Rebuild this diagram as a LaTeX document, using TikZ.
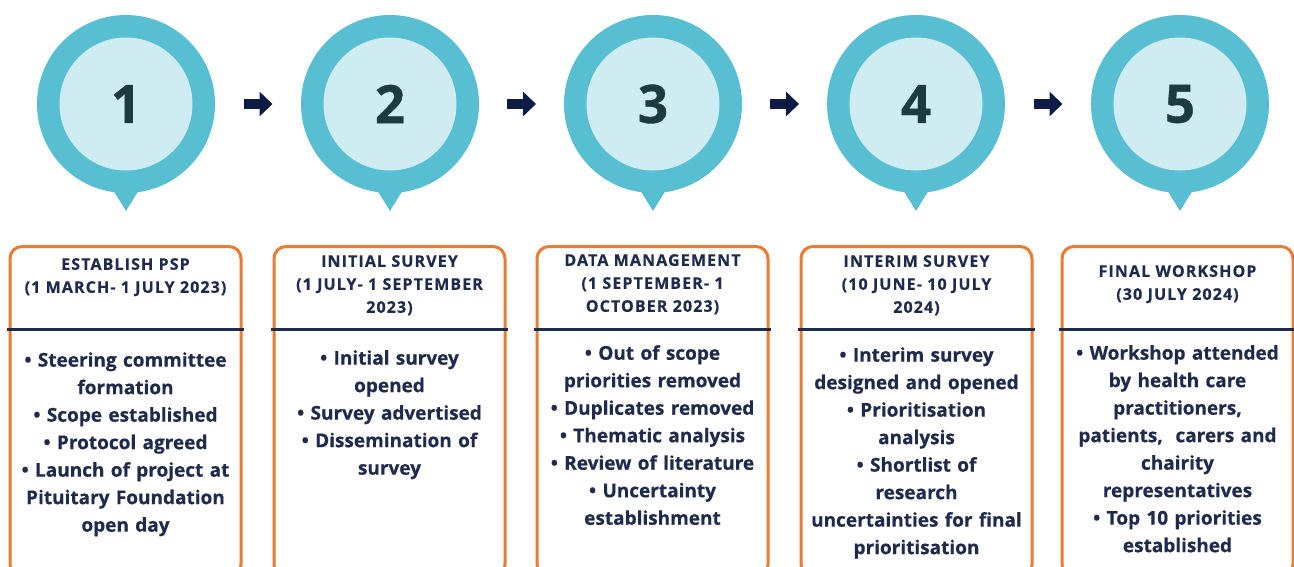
\documentclass[tikz,border=0pt]{standalone}
\usepackage{fontspec}
\setmainfont{Open Sans}
\usetikzlibrary{arrows.meta,calc}
\definecolor{outerc}{HTML}{58BFD3}
\definecolor{innerc}{HTML}{CFECF3}
\definecolor{numc}{HTML}{1D3A40}
\definecolor{arrc}{HTML}{0E1B45}
\definecolor{orangec}{HTML}{EC7A30}
\definecolor{navyc}{HTML}{1F2B4D}
\tikzset{
  x=1pt, y=1pt,
  outercirc/.style={circle, fill=outerc, minimum size=178pt, inner sep=0pt},
  innercirc/.style={circle, fill=innerc, minimum size=133pt, inner sep=0pt,
    text=numc, font=\fontsize{53}{53}\selectfont\bfseries\addfontfeatures{FakeBold=0.6}},
  stepbox/.style={draw=orangec, line width=3pt, rounded corners=12pt,
    minimum width=231pt, minimum height=330pt, anchor=north, inner sep=0pt},
  titletxt/.style={anchor=north, inner sep=0pt, text width=228pt, align=center,
    text=navyc, font=\fontsize{16}{23}\selectfont\bfseries\addfontfeatures{LetterSpace=7,FakeBold=0.4}},
  bodytxt/.style={anchor=north, inner sep=0pt, text width=228pt, align=center,
    text=navyc, font=\fontsize{19}{27.5}\selectfont\bfseries\addfontfeatures{FakeBold=0.5}},
  blockarrow/.style={draw=arrc, line width=10pt,
    -{Triangle[length=13pt 0, width=24pt 0]}},
  divider/.style={draw=navyc, line width=3pt}
}
\begin{document}
\begin{tikzpicture}
\useasboundingbox (0,0) rectangle (1294,-566);
\clip (0,0) rectangle (1294,-566);
\fill[white] (0,0) rectangle (1294,-566);
% circles
\foreach \i/\cx in {1/126,2/390,3/653,4/916,5/1180}{
  \fill[outerc] (\cx-16,-185) -- (\cx+16,-185) -- (\cx,-211) -- cycle;
  \node[outercirc] (c\i) at (\cx,-104) {};
  \node[innercirc] (n\i) at (\cx,-104) {\i};
}
% arrows
\foreach \a/\b in {1/2,2/3,3/4,4/5}{
  \coordinate (m\a) at ($(c\a.east)!0.5!(c\b.west)$);
  \coordinate (s\a) at ($(m\a)+(-14.5,0)$);
  \coordinate (e\a) at ($(m\a)+(14.5,0)$);
  \draw[blockarrow] (s\a) -- (e\a);
}
% boxes
\foreach \i/\cx in {1/125.5,2/389.5,3/652.5,4/916.5,5/1177.5}{
  \node[stepbox] (b\i) at (\cx,-245) {};
  \draw[divider] ($(b\i.north west)+(-1.5,-84)$) -- ($(b\i.north east)+(1.5,-84)$);
}
% titles
\node[titletxt] (t1) at (125.5,-258) {ESTABLISH PSP\\(1 MARCH- 1 JULY 2023)};
\node[titletxt] (t2) at (389.5,-255) {INITIAL SURVEY\\(1 JULY- 1 SEPTEMBER\\2023)};
\node[titletxt] (t3) at (652.5,-254) {DATA MANAGEMENT\\(1 SEPTEMBER- 1\\OCTOBER 2023)};
\node[titletxt] (t4) at (916.5,-255) {INTERIM SURVEY\\(10 JUNE- 10 JULY\\2024)};
\node[titletxt] (t5) at (1177.5,-265) {FINAL WORKSHOP\\(30 JULY 2024)};
% bodies
\node[bodytxt] (d1) at (125.5,-352) {• Steering committee\\formation\\• Scope established\\• Protocol agreed\\• Launch of project at\\Pituitary Foundation\\open day};
\node[bodytxt] (d2) at (389.5,-350) {• Initial survey\\opened\\• Survey advertised\\• Dissemination of\\survey};
\node[bodytxt] (d3) at (652.5,-345) {• Out of scope\\priorities removed\\• Duplicates removed\\• Thematic analysis\\• Review of literature\\• Uncertainty\\establishment};
\node[bodytxt] (d4) at (916.5,-347) {• Interim survey\\designed and opened\\• Prioritisation\\analysis\\• Shortlist of\\research\\uncertainties for final\\prioritisation};
\node[bodytxt] (d5) at (1177.5,-345) {• Workshop attended\\by health care\\practitioners,\\patients,\ \ carers and\\chairity\\representatives\\• Top 10 priorities\\established};
\end{tikzpicture}
\end{document}
